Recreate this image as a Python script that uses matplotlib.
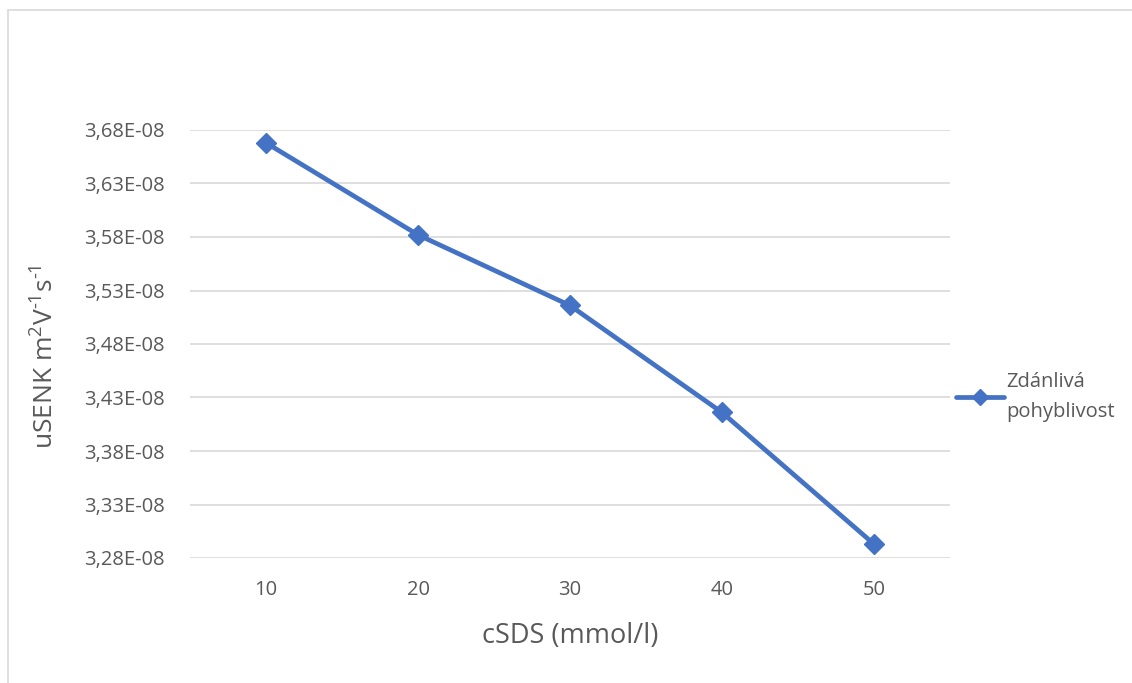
import numpy as np
import matplotlib.pyplot as plt
from matplotlib.patches import Rectangle
from matplotlib.ticker import FuncFormatter

plt.rcParams['font.family'] = ['Open Sans', 'DejaVu Sans']
plt.rcParams['mathtext.fontset'] = 'custom'
plt.rcParams['mathtext.rm'] = 'Open Sans'
plt.rcParams['mathtext.it'] = 'Open Sans'

categories = ['10', '20', '30', '40', '50']
mobility = [3.668e-08, 3.582e-08, 3.516e-08, 3.416e-08, 3.293e-08]
y_ticks = [3.28e-08, 3.33e-08, 3.38e-08, 3.43e-08, 3.48e-08,
           3.53e-08, 3.58e-08, 3.63e-08, 3.68e-08]
series_name = 'Zdánlivá\npohyblivost'

text_col = '#595959'
line_col = '#4472C4'

fig = plt.figure(figsize=(11.32, 6.83), dpi=100)
W, H = 1132, 683
ax = fig.add_axes([190 / W, 1 - 558 / H, 760 / W, 428 / H])

x = np.arange(1, len(categories) + 1)
ax.plot(x, mobility, color=line_col, lw=3.4, marker='D', ms=10,
        solid_capstyle='round', label=series_name)

ax.set_xlim(0.5, 5.5)
ax.set_ylim(y_ticks[0], y_ticks[-1])
ax.set_xticks(x)
ax.set_xticklabels(categories)
ax.set_yticks(y_ticks)
ax.yaxis.set_major_formatter(FuncFormatter(
    lambda v, p: f"{v * 1e8:.2f}E-08".replace('.', ',')))
ax.grid(axis='y', color='#d9d9d9', lw=1.2)
ax.set_axisbelow(True)
for s in ax.spines.values():
    s.set_visible(False)
ax.tick_params(length=0, labelsize=14.5, colors=text_col, pad=18)
ax.tick_params(axis='x', pad=16)

ax.set_xlabel('cSDS (mmol/l)', fontsize=19.5, color=text_col, labelpad=16)
ax.set_ylabel('uSENK m$^{2}$V$^{\\text{-}1}$s$^{\\text{-}1}$', fontsize=19,
              color=text_col)
ax.yaxis.set_label_coords(-0.172, 0.47)

leg = ax.legend(loc='center left', bbox_to_anchor=(948 / W, 1 - 397 / H),
                bbox_transform=fig.transFigure, frameon=False, fontsize=14.5,
                handlelength=2.4, handletextpad=0.1, borderaxespad=0,
                markerscale=0.8)
for t in leg.get_texts():
    t.set_color(text_col)
    t.set_linespacing(1.65)

fig.patches.append(Rectangle((8 / W, -0.1), 1.2, 1.1 - 10 / H,
                             transform=fig.transFigure, fill=False,
                             edgecolor='#d9d9d9', lw=1.2))

fig.savefig('out.png', dpi=100)
